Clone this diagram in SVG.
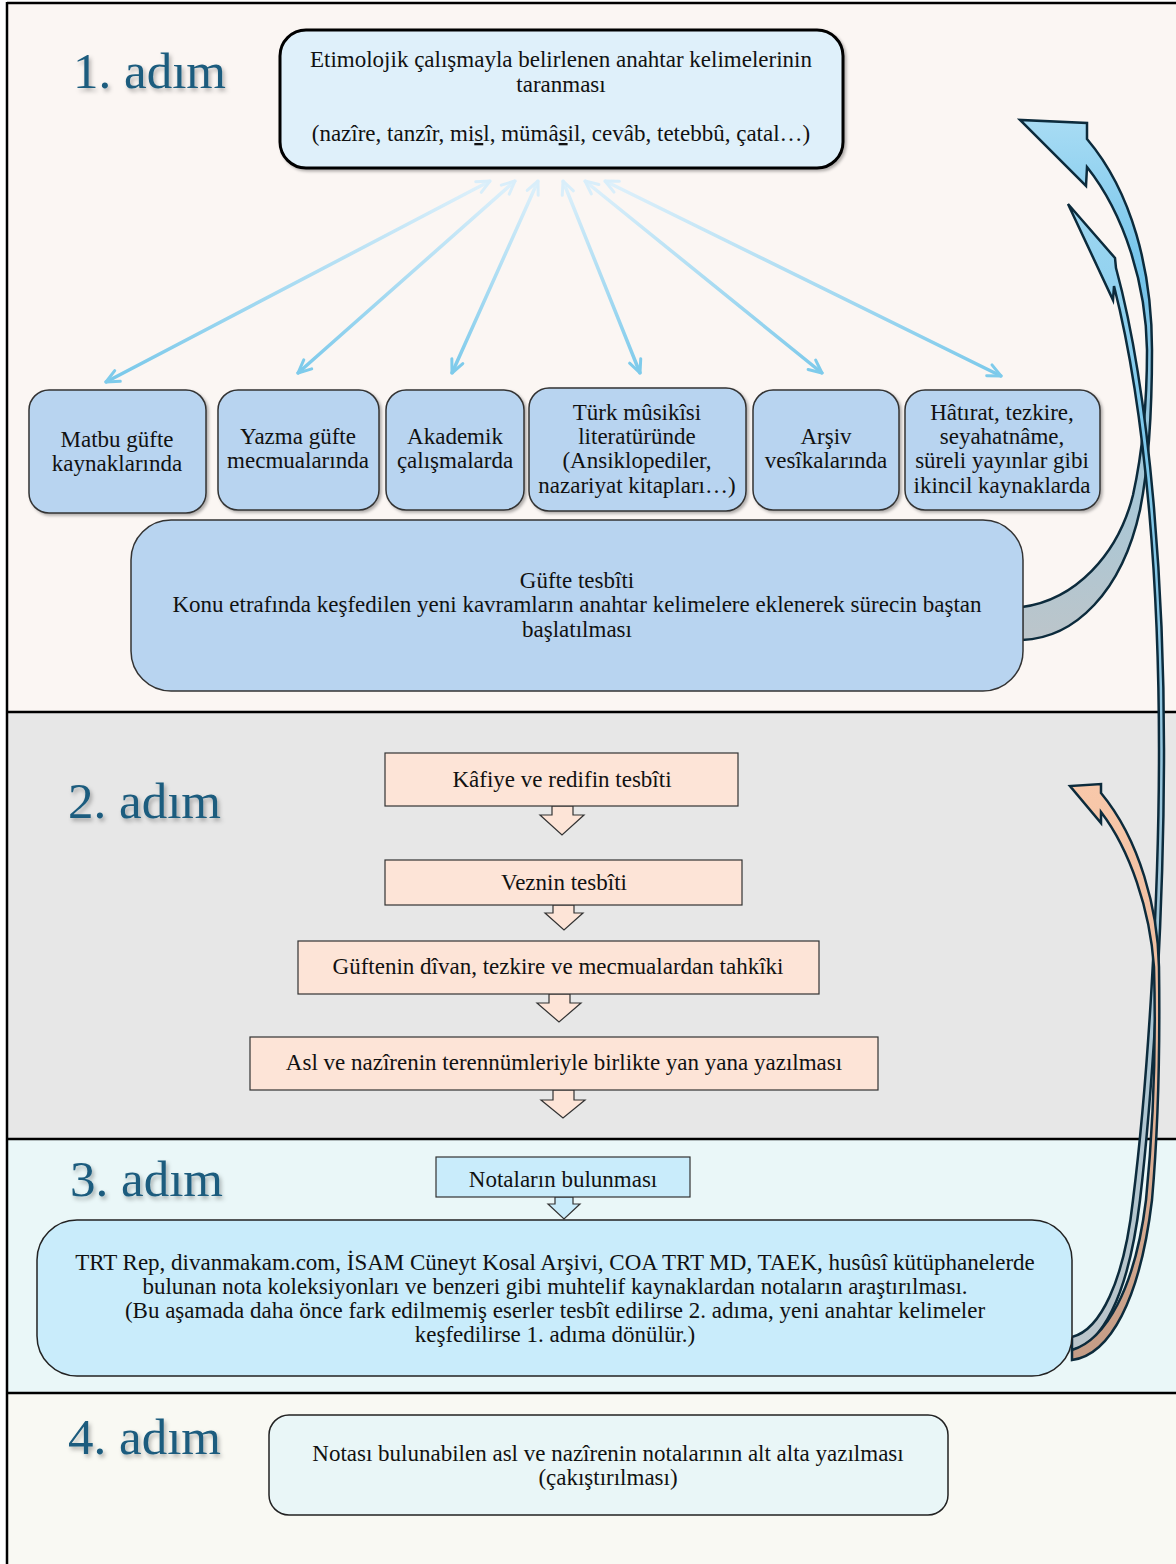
<svg xmlns="http://www.w3.org/2000/svg" width="1176" height="1564" viewBox="0 0 1176 1564">
<style>
.h{font-family:"Liberation Serif","Times New Roman",serif;font-size:51px;fill:#1c5c7e;filter:url(#tsh)}
.t{font-family:"Liberation Serif","Times New Roman",serif;font-size:23px;fill:#111;text-anchor:middle}
.rb{fill:#b8d4f0;stroke:#333;stroke-width:1.5}
.pb{fill:#fde4d7;stroke:#333;stroke-width:1.2}
.bb{fill:#c9ecfb;stroke:#333;stroke-width:1.2}
.ray{stroke:url(#rg);stroke-width:3.5;fill:none;stroke-linecap:round;marker-start:url(#ms);marker-end:url(#me)}
.curve{stroke:#0c2b3c;stroke-width:2.5;stroke-linejoin:miter}
.sep{stroke:#000;stroke-width:2.5}
</style>
<defs>
<filter id="tsh" x="-20%" y="-20%" width="140%" height="160%"><feDropShadow dx="2" dy="3" stdDeviation="2" flood-color="#000" flood-opacity="0.3"/></filter>
<filter id="bsh" x="-5%" y="-5%" width="110%" height="115%"><feDropShadow dx="2" dy="2" stdDeviation="1.5" flood-color="#000" flood-opacity="0.3"/></filter>
<linearGradient id="rg" gradientUnits="userSpaceOnUse" x1="0" y1="180" x2="0" y2="380"><stop offset="0" stop-color="#e0f1fb"/><stop offset="1" stop-color="#78c8ea"/></linearGradient>
<linearGradient id="g1" gradientUnits="userSpaceOnUse" x1="0" y1="120" x2="0" y2="640"><stop offset="0" stop-color="#a8dcf4"/><stop offset="0.3" stop-color="#72c3ea"/><stop offset="0.65" stop-color="#a3c8da"/><stop offset="1" stop-color="#bcc5ca"/></linearGradient>
<linearGradient id="g2" gradientUnits="userSpaceOnUse" x1="0" y1="204" x2="0" y2="1360"><stop offset="0" stop-color="#9ed7f1"/><stop offset="0.2" stop-color="#7cc8ec"/><stop offset="0.7" stop-color="#aac6d4"/><stop offset="1" stop-color="#bcc5ca"/></linearGradient>
<linearGradient id="g3" gradientUnits="userSpaceOnUse" x1="0" y1="784" x2="0" y2="1360"><stop offset="0" stop-color="#f8c8aa"/><stop offset="0.5" stop-color="#e9b79a"/><stop offset="1" stop-color="#c39c86"/></linearGradient>
<marker id="ms" viewBox="0 0 16 16" refX="15" refY="8" markerWidth="16" markerHeight="16" markerUnits="userSpaceOnUse" orient="auto-start-reverse"><path d="M2,2 L15,8 L2,14" fill="none" stroke="#d9eefa" stroke-width="3" stroke-linecap="round" stroke-linejoin="round"/></marker>
<marker id="me" viewBox="0 0 16 16" refX="15" refY="8" markerWidth="16" markerHeight="16" markerUnits="userSpaceOnUse" orient="auto"><path d="M2,2 L15,8 L2,14" fill="none" stroke="#7ecbeb" stroke-width="3" stroke-linecap="round" stroke-linejoin="round"/></marker>
</defs>

<!-- section backgrounds -->
<g id="sections">
<rect x="7" y="3" width="1169" height="709" fill="#fbf6f3"/>
<rect x="7" y="712" width="1169" height="427" fill="#e7e7e7"/>
<rect x="7" y="1139" width="1169" height="254" fill="#eaf7f8"/>
<rect x="7" y="1393" width="1169" height="171" fill="#f9f9f3"/>
<line class="sep" x1="7" y1="3" x2="1176" y2="3"/>
<line class="sep" x1="7" y1="2" x2="7" y2="1564"/>
<line class="sep" x1="7" y1="712" x2="1176" y2="712"/>
<line class="sep" x1="7" y1="1139" x2="1176" y2="1139"/>
<line class="sep" x1="7" y1="1393" x2="1176" y2="1393"/>
</g>

<g id="headings">
<text class="h" x="73" y="88">1. adım</text>
<text class="h" x="68" y="818">2. adım</text>
<text class="h" x="70" y="1196">3. adım</text>
<text class="h" x="68" y="1454">4. adım</text>
</g>

<!-- connectors -->
<g id="connectors">
<line class="ray" x1="490" y1="181" x2="106" y2="382"/>
<line class="ray" x1="515" y1="181" x2="298" y2="373"/>
<line class="ray" x1="538" y1="181" x2="452" y2="373"/>
<line class="ray" x1="563" y1="181" x2="640" y2="373"/>
<line class="ray" x1="585" y1="181" x2="822" y2="373"/>
<line class="ray" x1="605" y1="181" x2="1001" y2="376"/>

<g id="downarrows">
<polygon class="pb" points="552,806 573,806 573,815 584,815 562,835 540,815 552,815"/>
<polygon class="pb" points="553,905 574,905 574,913 583,913 564,930 545,913 553,913"/>
<polygon class="pb" points="549,994 570,994 570,1003 581,1003 559,1022 537,1003 549,1003"/>
<polygon class="pb" points="553,1090 574,1090 574,1100 585,1100 563,1118 541,1100 553,1100"/>
<polygon class="bb" points="555,1197 573,1197 573,1204 580,1204 564,1219 548,1204 555,1204"/>
</g>

<path id="loop1" class="curve" fill="url(#g1)" d="M1022,607 C1075,600 1118,555 1133,495 C1143,450 1147,400 1147,350 C1146,285 1125,215 1087,167 L1086,186 L1020,120 L1087,123 L1087,139 C1132,192 1152,270 1152,350 C1152,420 1148,470 1140,510 C1122,592 1075,638 1022,640 Z"/>
<path id="loop2" class="curve" fill="url(#g2)" d="M1072,1337 C1100,1330 1124,1282 1133,1200 C1148,1080 1159,900 1159,750 C1159,600 1148,420 1114,286 L1113,300 L1068,204 L1115,258 L1116,268 C1152,400 1164,600 1164,750 C1164,900 1154,1080 1140,1200 C1128,1300 1100,1345 1072,1350 Z"/>
<path id="loop3" class="curve" fill="url(#g3)" d="M1072,1350 C1105,1340 1135,1290 1146,1200 C1154,1120 1156,1040 1154,967 C1150,910 1130,850 1101,812 L1101,823 L1070,786 L1101,784 L1101,793 C1140,840 1158,910 1159,967 C1160,1040 1159,1120 1152,1200 C1140,1300 1110,1355 1072,1360 Z"/>
</g>

<!-- nodes -->
<g id="n-top">
<rect x="280" y="30" width="563" height="138" rx="26" fill="#dff0fa" stroke="#000" stroke-width="3" filter="url(#bsh)"/>
<text class="t" x="561" y="67">Etimolojik çalışmayla belirlenen anahtar kelimelerinin</text>
<text class="t" x="561" y="92">taranması</text>
<text class="t" x="561" y="141">(nazîre, tanzîr, mi<tspan text-decoration="underline">s</tspan>l, mümâ<tspan text-decoration="underline">s</tspan>il, cevâb, tetebbû, çatal…)</text>
</g>

<g id="n-matbu">
<rect class="rb" x="29" y="390" width="177" height="123" rx="20" filter="url(#bsh)"/>
<text class="t" x="117" y="447">Matbu güfte</text>
<text class="t" x="117" y="471">kaynaklarında</text>
</g>
<g id="n-yazma">
<rect class="rb" x="218" y="390" width="161" height="120" rx="20" filter="url(#bsh)"/>
<text class="t" x="298" y="444">Yazma güfte</text>
<text class="t" x="298" y="468">mecmualarında</text>
</g>
<g id="n-akademik">
<rect class="rb" x="386" y="390" width="138" height="120" rx="20" filter="url(#bsh)"/>
<text class="t" x="455" y="444">Akademik</text>
<text class="t" x="455" y="468">çalışmalarda</text>
</g>
<g id="n-turk">
<rect class="rb" x="529" y="388" width="217" height="123" rx="20" filter="url(#bsh)"/>
<text class="t" x="637" y="420">Türk mûsikîsi</text>
<text class="t" x="637" y="444">literatüründe</text>
<text class="t" x="637" y="468">(Ansiklopediler,</text>
<text class="t" x="637" y="493">nazariyat kitapları…)</text>
</g>
<g id="n-arsiv">
<rect class="rb" x="753" y="390" width="146" height="120" rx="20" filter="url(#bsh)"/>
<text class="t" x="826" y="444">Arşiv</text>
<text class="t" x="826" y="468">vesîkalarında</text>
</g>
<g id="n-hatirat">
<rect class="rb" x="905" y="390" width="195" height="120" rx="20" filter="url(#bsh)"/>
<text class="t" x="1002" y="420">Hâtırat, tezkire,</text>
<text class="t" x="1002" y="444">seyahatnâme,</text>
<text class="t" x="1002" y="468">süreli yayınlar gibi</text>
<text class="t" x="1002" y="493">ikincil kaynaklarda</text>
</g>
<g id="n-gufte">
<rect class="rb" x="131" y="520" width="892" height="171" rx="40"/>
<text class="t" x="577" y="588">Güfte tesbîti</text>
<text class="t" x="577" y="612">Konu etrafında keşfedilen yeni kavramların anahtar kelimelere eklenerek sürecin baştan</text>
<text class="t" x="577" y="637">başlatılması</text>
</g>

<g id="n-kafiye">
<rect class="pb" x="385" y="753" width="353" height="53"/>
<text class="t" x="562" y="787">Kâfiye ve redifin tesbîti</text>
</g>
<g id="n-vezin">
<rect class="pb" x="385" y="860" width="357" height="45"/>
<text class="t" x="564" y="890">Veznin tesbîti</text>
</g>
<g id="n-tahkik">
<rect class="pb" x="298" y="941" width="521" height="53"/>
<text class="t" x="558" y="974">Güftenin dîvan, tezkire ve mecmualardan tahkîki</text>
</g>
<g id="n-asl">
<rect class="pb" x="250" y="1037" width="628" height="53"/>
<text class="t" x="564" y="1070">Asl ve nazîrenin terennümleriyle birlikte yan yana yazılması</text>
</g>

<g id="n-notalar">
<rect class="bb" x="436" y="1157" width="254" height="40"/>
<text class="t" x="563" y="1187">Notaların bulunması</text>
</g>
<g id="n-arastirma">
<rect x="37" y="1220" width="1035" height="156" rx="40" fill="#c9ecfb" stroke="#222" stroke-width="1.5"/>
<text class="t" x="555" y="1270">TRT Rep, divanmakam.com, İSAM Cüneyt Kosal Arşivi, COA TRT MD, TAEK, husûsî kütüphanelerde</text>
<text class="t" x="555" y="1294">bulunan nota koleksiyonları ve benzeri gibi muhtelif kaynaklardan notaların araştırılması.</text>
<text class="t" x="555" y="1318">(Bu aşamada daha önce fark edilmemiş eserler tesbît edilirse 2. adıma, yeni anahtar kelimeler</text>
<text class="t" x="555" y="1342">keşfedilirse 1. adıma dönülür.)</text>
</g>

<g id="n-cakistirma">
<rect x="269" y="1415" width="679" height="100" rx="20" fill="#e9f6f7" stroke="#222" stroke-width="1.5"/>
<text class="t" x="608" y="1461">Notası bulunabilen asl ve nazîrenin notalarının alt alta yazılması</text>
<text class="t" x="608" y="1485">(çakıştırılması)</text>
</g>
</svg>
